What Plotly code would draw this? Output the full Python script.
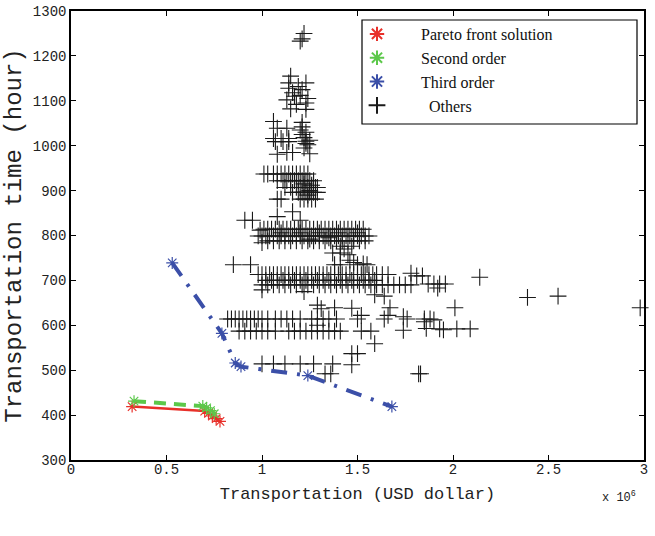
import plotly.graph_objects as go

# ---------------- data ----------------
pareto_x = [0.32, 0.70, 0.72, 0.74, 0.76, 0.78]
pareto_y = [419, 409, 404, 398, 392, 386]

second_x = [0.33, 0.69, 0.71, 0.73, 0.75]
second_y = [431, 420, 416, 410, 403]

third_x = [0.53, 0.79, 0.86, 0.89, 1.24, 1.68]
third_y = [739, 582, 516, 508, 488, 419]

# "Others" clusters (x in 10^6 USD, y in hours)
top_x = [1.22, 1.20, 1.21]
top_y = [1250, 1233, 1238]

c1100_x = [1.15, 1.14, 1.23, 1.19, 1.14, 1.21, 1.17, 1.13, 1.20, 1.24, 1.23, 1.15, 1.23, 1.18, 1.16]
c1100_y = [1155, 1140, 1140, 1132, 1128, 1125, 1110, 1102, 1112, 1105, 1095, 1082, 1081, 1092, 1118]

c1000_x = [1.06, 1.08, 1.13, 1.21, 1.20, 1.06, 1.10, 1.14, 1.21, 1.22, 1.23, 1.24, 1.25, 1.22,
           1.07, 1.11, 1.14, 1.23, 1.08, 1.13, 1.16, 1.25, 1.21, 1.23]
c1000_y = [1054, 1039, 1039, 1042, 1035, 1016, 1016, 1016, 1025, 1018, 1010, 1002, 1012, 995,
           1009, 1009, 1009, 1005, 981, 985, 985, 982, 1052, 1030]

c900_x = [1.01, 1.03, 1.06, 1.08, 1.10, 1.12, 1.14, 1.16, 1.18, 1.20, 1.22, 1.24,
          1.08, 1.11, 1.13, 1.15, 1.17, 1.19, 1.21, 1.23, 1.25, 1.27,
          1.12, 1.15, 1.18, 1.20, 1.22, 1.24, 1.26, 1.28, 1.29,
          1.16, 1.19, 1.21, 1.23, 1.25, 1.27, 1.29,
          1.08, 1.10, 1.20, 1.22, 1.24, 1.26, 1.28,
          1.22, 1.24, 1.25, 1.26]
c900_y = [937, 937, 937, 937, 937, 937, 937, 937, 937, 937, 937, 937,
          922, 922, 922, 922, 922, 922, 922, 922, 922, 922,
          907, 907, 907, 907, 907, 907, 907, 907, 907,
          896, 896, 896, 896, 896, 896, 896,
          881, 881, 881, 881, 881, 881, 881,
          915, 890, 900, 912]

c840_x = [0.91, 0.95, 1.08, 1.16, 1.20]
c840_y = [834, 834, 842, 853, 834]

c800_x = [1.01, 1.03, 1.05, 1.07, 1.09, 1.11, 1.13, 1.15, 1.17, 1.19, 1.21, 1.23, 1.25, 1.27,
          1.29, 1.31, 1.33, 1.35, 1.37, 1.39, 1.41, 1.43, 1.45, 1.47, 1.49, 1.51, 1.53,
          0.98, 1.00, 1.02, 1.04, 1.06, 1.08, 1.10, 1.12, 1.14, 1.16, 1.18, 1.20, 1.22, 1.24,
          1.26, 1.28, 1.30, 1.32, 1.34, 1.36, 1.38, 1.40, 1.42, 1.44, 1.46, 1.48, 1.50, 1.52,
          1.54, 1.56,
          1.03, 1.06, 1.09, 1.12, 1.15, 1.18, 1.21, 1.24, 1.27, 1.30, 1.33, 1.36, 1.39, 1.42,
          1.45, 1.48, 1.51, 1.54,
          0.99, 1.00, 1.10, 1.20, 1.30, 1.40, 1.50, 1.25, 1.35]
c800_y = [814, 814, 814, 814, 814, 814, 814, 814, 814, 814, 814, 814, 814, 814,
          814, 814, 814, 814, 814, 814, 814, 814, 814, 814, 814, 814, 814,
          799, 799, 799, 799, 799, 799, 799, 799, 799, 799, 799, 799, 799, 799,
          799, 799, 799, 799, 799, 799, 799, 799, 799, 799, 799, 799, 799, 799,
          799, 799,
          788, 788, 788, 788, 788, 788, 788, 788, 788, 788, 788, 788, 788, 788,
          788, 788, 788, 788,
          812, 784, 806, 806, 806, 806, 806, 792, 795]

c750_x = [1.41, 1.37, 1.45, 1.47, 1.41, 1.43, 1.41, 1.38, 1.50, 1.53, 1.55, 0.85, 0.94, 1.46, 1.48]
c750_y = [761, 761, 757, 776, 776, 770, 735, 735, 735, 737, 735, 735, 735, 745, 740]

c700_x = [0.98, 1.00, 1.02, 1.04, 1.06, 1.08, 1.10, 1.12, 1.14, 1.16, 1.18, 1.20, 1.22, 1.24,
          1.26, 1.28, 1.30, 1.32, 1.34, 1.36, 1.38, 1.40, 1.42, 1.44, 1.46, 1.48, 1.50, 1.52,
          1.54, 1.56, 1.58, 1.60, 1.63, 1.66, 1.78, 1.81, 1.84, 2.14,
          1.02, 1.05, 1.08, 1.11, 1.14, 1.17, 1.20, 1.23, 1.26, 1.29, 1.32, 1.35, 1.38, 1.41,
          1.44, 1.47, 1.50, 1.53, 1.56, 1.59,
          1.00, 1.03, 1.06, 1.09, 1.12, 1.15, 1.18, 1.21, 1.24, 1.27, 1.30, 1.33, 1.36, 1.39,
          1.42, 1.45, 1.48, 1.51, 1.54, 1.57, 1.60, 1.63, 1.66, 1.69, 1.72, 1.75, 1.78, 1.87,
          1.90, 1.93, 1.96,
          1.00, 1.22, 1.92, 1.59, 1.64]
c700_y = [713, 713, 713, 713, 713, 713, 713, 713, 713, 713, 713, 713, 713, 713,
          713, 713, 713, 713, 713, 713, 713, 713, 713, 713, 713, 713, 713, 713,
          713, 713, 713, 713, 713, 713, 716, 710, 710, 707,
          700, 700, 700, 700, 700, 700, 700, 700, 700, 700, 700, 700, 700, 700,
          700, 700, 700, 700, 700, 700,
          690, 690, 690, 690, 690, 690, 690, 690, 690, 690, 690, 690, 690, 690,
          690, 690, 690, 690, 690, 690, 690, 690, 690, 690, 690, 690, 690, 692,
          692, 692, 692,
          679, 675, 683, 668, 665]

c640_x = [1.29, 1.31, 1.38, 1.47, 1.52, 1.66, 1.67, 2.01, 2.39, 2.55, 2.98, 1.74]
c640_y = [645, 637, 639, 638, 622, 622, 639, 639, 662, 665, 639, 619]

c600_x = [0.82, 0.84, 0.86, 0.88, 0.90, 0.92, 0.94, 0.96, 0.98, 1.00, 1.03, 1.07, 1.10, 1.13,
          1.16, 1.20, 1.26, 1.29, 1.32, 1.35, 1.39, 1.50, 1.64, 1.76, 1.85, 1.88, 1.90,
          0.88, 0.91, 0.94, 0.97, 1.00, 1.03, 1.07, 1.14, 1.17, 1.20, 1.23, 1.26, 1.29, 1.32,
          1.35, 1.38, 1.41, 1.52, 1.57, 1.74, 1.86, 1.93, 1.95, 2.02, 2.09,
          1.85, 1.29]
c600_y = [614, 614, 614, 614, 614, 614, 614, 614, 614, 614, 614, 614, 614, 614,
          614, 614, 614, 614, 614, 614, 614, 614, 614, 614, 614, 614, 612,
          587, 587, 587, 587, 587, 587, 587, 587, 587, 587, 587, 587, 587, 587,
          587, 587, 587, 587, 587, 589, 593, 592, 590, 592, 592,
          608, 600]

c500_x = [1.59, 1.47, 1.50, 1.47, 1.00, 1.06, 1.12, 1.20, 1.27, 1.37, 1.33, 1.36, 1.82, 1.83]
c500_y = [559, 537, 537, 512, 514, 514, 514, 514, 514, 514, 492, 492, 492, 492]

others_x = top_x + c1100_x + c1000_x + c900_x + c840_x + c800_x + c750_x + c700_x + c640_x + c600_x + c500_x
others_y = top_y + c1100_y + c1000_y + c900_y + c840_y + c800_y + c750_y + c700_y + c640_y + c600_y + c500_y

x_scale = 1e6
x_ticks = [0, 0.5, 1, 1.5, 2, 2.5, 3]
y_ticks = [300, 400, 500, 600, 700, 800, 900, 1000, 1100, 1200, 1300]

RED = "#e8302a"
GREEN = "#5cc84a"
BLUE = "#3b4fa8"

def sx(v):
    return [a * x_scale for a in v]

NB = "\u00a0"

fig = go.Figure()

# Others
fig.add_trace(go.Scatter(
    x=sx(others_x), y=others_y, mode="markers", name=NB * 8 + "Others", cliponaxis=False,
    marker=dict(symbol="cross-thin", size=12, color="#1a1a1a", line=dict(color="#1a1a1a", width=1.1)),
))
# lines (no legend)
fig.add_trace(go.Scatter(x=sx(pareto_x), y=pareto_y, mode="lines", showlegend=False,
                         line=dict(color=RED, width=2.5)))
fig.add_trace(go.Scatter(x=sx(second_x), y=second_y, mode="lines", showlegend=False,
                         line=dict(color=GREEN, width=4, dash="12px,8px")))
fig.add_trace(go.Scatter(x=sx(third_x), y=third_y, mode="lines", showlegend=False,
                         line=dict(color=BLUE, width=4, dash="16px,10px,3px,10px")))
# markers (legend)
fig.add_trace(go.Scatter(x=sx(pareto_x), y=pareto_y, mode="markers", name=NB * 6 + "Pareto front solution",
                         marker=dict(symbol="asterisk-open", size=10, color=RED, line=dict(color=RED, width=1.2))))
fig.add_trace(go.Scatter(x=sx(second_x), y=second_y, mode="markers", name=NB * 6 + "Second order",
                         marker=dict(symbol="asterisk-open", size=10, color=GREEN, line=dict(color=GREEN, width=1.2))))
fig.add_trace(go.Scatter(x=sx(third_x), y=third_y, mode="markers", name=NB * 6 + "Third order",
                         marker=dict(symbol="asterisk-open", size=10, color=BLUE, line=dict(color=BLUE, width=1.2))))

# legend order: Pareto, Second, Third, Others
fig.data[0].legendrank = 4
fig.data[4].legendrank = 1
fig.data[5].legendrank = 2
fig.data[6].legendrank = 3

axis_font = dict(family="Liberation Mono, DejaVu Sans Mono, monospace", size=14, color="#222")
xtitle_font = dict(family="Liberation Mono, DejaVu Sans Mono, monospace", size=17, color="#222")
ytitle_font = dict(family="Liberation Mono, DejaVu Sans Mono, monospace", size=24, color="#222")

L, R, T, B = 71, 11, 11, 76
PW, PH = 655 - L - R, 536 - T - B

fig.update_layout(
    width=655, height=536,
    margin=dict(l=L, r=R, t=T, b=B),
    paper_bgcolor="white", plot_bgcolor="white",
    showlegend=True,
    legend=dict(
        x=(357 - L) / PW, y=1 - (17 - T) / PH, xanchor="left", yanchor="top",
        bgcolor="rgba(0,0,0,0)", borderwidth=0,
        font=dict(family="Liberation Serif, Times New Roman, serif", size=16, color="#111"),
        tracegroupgap=0, itemsizing="constant",
    ),
    shapes=[dict(type="rect", xref="paper", yref="paper",
                 x0=(362 - L) / PW, x1=(637 - L) / PW,
                 y0=1 - (124 - T) / PH, y1=1 - (20 - T) / PH,
                 line=dict(color="black", width=1.2), fillcolor="rgba(0,0,0,0)", layer="above")],
    annotations=[dict(text="x 10<sup>6</sup>", xref="paper", yref="paper",
                      x=(638 - L) / PW, y=-(497 - (536 - B)) / PH, xanchor="right", yanchor="middle",
                      showarrow=False,
                      font=dict(family="Liberation Mono, monospace", size=12, color="#222"))],
)

fig.update_xaxes(
    range=[0, 3 * x_scale], tickvals=[t * x_scale for t in x_ticks],
    ticktext=["%g" % t for t in x_ticks], automargin=False,
    showgrid=False, zeroline=False, showline=True, linecolor="black", linewidth=1.5,
    mirror="ticks", ticks="inside", ticklen=5, tickcolor="black", tickfont=axis_font,
    ticklabelstandoff=-5,
    title=dict(text="Transportation (USD dollar)", font=xtitle_font, standoff=11),
)
fig.update_yaxes(
    range=[300, 1300], tickvals=y_ticks, automargin=False,
    showgrid=False, zeroline=False, showline=True, linecolor="black", linewidth=1.5,
    mirror="ticks", ticks="inside", ticklen=5, tickcolor="black", tickfont=axis_font,
    ticklabelstandoff=0,
    title=dict(text="Transportation time (hour)", font=ytitle_font, standoff=4),
)

fig.write_html("out.html", config={"displayModeBar": False},
               post_script="document.body.style.margin='0';document.body.style.overflow='hidden';")
